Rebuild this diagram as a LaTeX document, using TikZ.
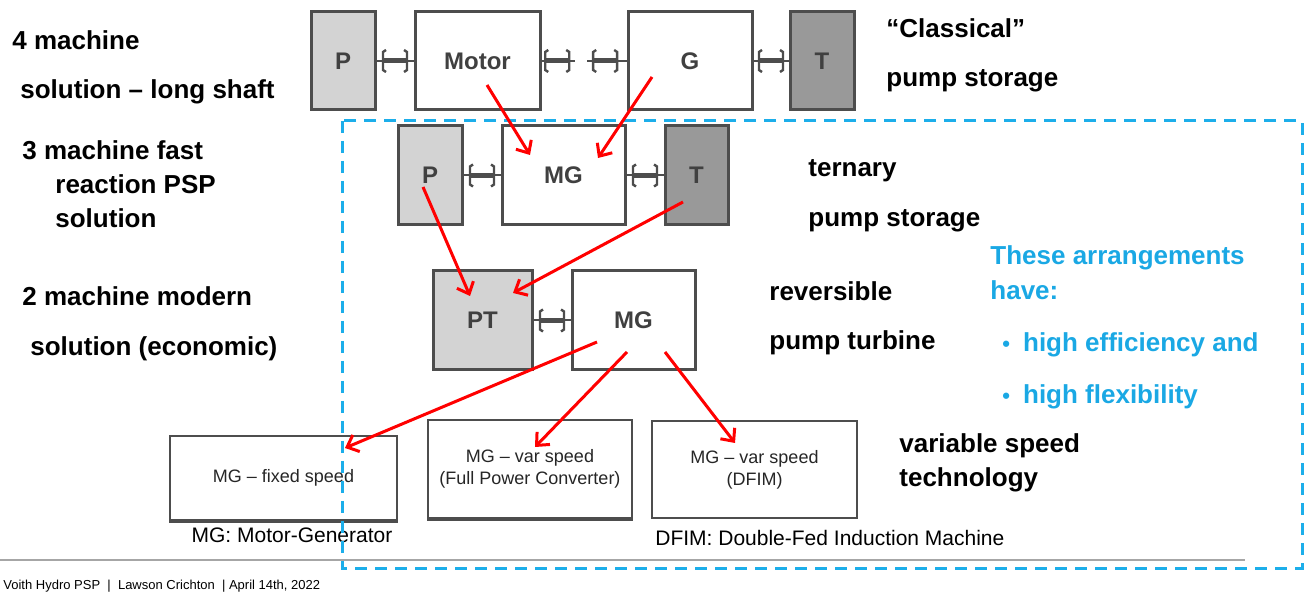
\documentclass[tikz,border=0pt]{standalone}
\usepackage{fontspec}
\setmainfont{Liberation Sans}
\usepackage{tikz}
\usetikzlibrary{arrows.meta,calc}

\definecolor{edge}{HTML}{4D4D4D}
\definecolor{pumpgray}{HTML}{D3D3D3}
\definecolor{turbgray}{HTML}{999999}
\definecolor{framebl}{HTML}{1CAEEA}
\definecolor{textbl}{HTML}{1AA8E4}
\definecolor{lblgray}{HTML}{404040}

\tikzset{
  coupling/.pic={
    \draw[line width=2.5pt, edge] (-12,0) -- (12,0);
    \draw[line width=1.2pt, edge] (-9,-11) -- (-12,-9) -- (-12,9) -- (-9,11);
    \draw[line width=1.2pt, edge] (9,-11) -- (12,-9) -- (12,9) -- (9,11);
  }
}

\begin{document}
\begin{tikzpicture}[x=0.5pt, y=-0.5pt,
    mach/.style={draw=edge, line width=1.5pt, inner sep=0pt, minimum height=49pt, font=\fontsize{12}{14}\selectfont\bfseries, text=lblgray},
    pbox/.style={mach, fill=pumpgray},
    tbox/.style={mach, fill=turbgray},
    wbox/.style={mach, fill=white},
    vbox/.style={draw=edge, line width=1pt, fill=white, align=center, inner sep=0pt, font=\fontsize{9}{11}\selectfont, text=black!85},
    shaft/.style={edge, line width=1pt},
    arr/.style={-{Straight Barb[length=5pt,width=9pt]}, red, line width=1.5pt},
    side/.style={anchor=base west, inner sep=0pt, font=\fontsize{13}{15}\selectfont\bfseries},
    note/.style={anchor=base, inner sep=0pt, font=\fontsize{10.5}{12}\selectfont},
    frame/.style={draw=framebl, line width=1.5pt, dash pattern=on 6pt off 4pt}
]
\useasboundingbox (0,0) rectangle (1305,592);

% four machine set
\node[pbox, minimum width=32pt] (P1) at (343,61) {P};
\node[wbox, minimum width=62.5pt] (Mot) at (477.5,61) {Motor};
\node[wbox, minimum width=62pt] (G1) at (690,61) {G};
\node[tbox, minimum width=32pt] (T1) at (822,61) {T};
\coordinate (s1) at (575,61);
\coordinate (s2) at (587,61);
\draw[shaft] (P1) -- (Mot);
\draw[shaft] (Mot.east) -- (s1);
\draw[shaft] (s2) -- (G1.west);
\draw[shaft] (G1) -- (T1);
\pic at ($(P1.east)!0.5!(Mot.west)$) {coupling};
\pic at ($(Mot.east)!0.47!(s1)$) {coupling};
\pic at ($(s2)!0.46!(G1.west)$) {coupling};
\pic at ($(G1.east)!0.5!(T1.west)$) {coupling};

% ternary set
\node[pbox, minimum width=32pt, minimum height=49.5pt] (P2) at (430,175.5) {P};
\node[wbox, minimum width=61.5pt, minimum height=49.5pt] (MG2) at (563.5,175.5) {MG};
\node[tbox, minimum width=31.5pt, minimum height=49.5pt] (T2) at (696.5,175.5) {T};
\draw[shaft] (P2) -- (MG2);
\draw[shaft] (MG2) -- (T2);
\pic at ($(P2.east)!0.5!(MG2.west)$) {coupling};
\pic at ($(MG2.east)!0.5!(T2.west)$) {coupling};

% reversible set
\node[pbox, minimum width=49.5pt, minimum height=49.5pt] (PT) at (482.5,320.5) {PT};
\node[wbox, minimum width=61.5pt, minimum height=49.5pt] (MG3) at (633.5,320.5) {MG};
\draw[shaft] (PT) -- (MG3);
\pic at ($(PT.east)!0.5!(MG3.west)$) {coupling};

% variable speed options
\node[vbox, minimum width=113.5pt, minimum height=42pt] (fix) at (283.5,478) {MG – fixed speed};
\node[vbox, minimum width=102pt, minimum height=49pt] (fpc) at (530,469) {MG – var speed\\(Full Power Converter)};
\node[vbox, minimum width=102.5pt, minimum height=48.5pt] (dfim) at (754.5,469.5) {MG – var speed\\(DFIM)};
\draw[edge, line width=2pt] (fix.south west) -- (fix.south east);
\draw[edge, line width=2pt] (fpc.south west) -- (fpc.south east);

\node[note] (mgn) at (292,542) {MG: Motor-Generator};
\node[note, anchor=base west] (dfn) at (655,545) {DFIM: Double-Fed Induction Machine};

% left side
\node[side] (t4a) at (12,50) {4 machine};
\node[side] (t4b) at (20,99) {solution – long shaft};
\node[side] (t3a) at (22,160) {3 machine fast};
\node[side] (t3b) at (55,194) {reaction PSP};
\node[side] (t3c) at (55,228) {solution};
\node[side] (t2a) at (22,306) {2 machine modern};
\node[side] (t2b) at (30,356) {solution (economic)};

% right side
\node[side] (c1) at (886,38) {“Classical”};
\node[side] (c2) at (886,87) {pump storage};
\node[side] (r1) at (808,177) {ternary};
\node[side] (r2) at (808,227) {pump storage};
\node[side] (v1) at (769,301) {reversible};
\node[side] (v2) at (769,350) {pump turbine};
\node[side] (w1) at (899,452) {variable speed};
\node[side] (w2) at (899,487) {technology};

\node[side, text=textbl] (h1) at (990,265) {These arrangements};
\node[side, text=textbl] (h2) at (990,300) {have:};
\node[side, text=textbl] (h3) at (1002,352) {{\fontsize{11}{11}\selectfont •}\hspace{6.5pt}high efficiency and};
\node[side, text=textbl] (h4) at (1002,404) {{\fontsize{11}{11}\selectfont •}\hspace{6.5pt}high flexibility};

% frame and footer
\draw[frame] (342,121) rectangle (1302,568);
\draw[gray!70, line width=1pt] (0,560) -- (1245,560);
\node[anchor=base west, inner sep=0pt, font=\fontsize{6.5}{7}\selectfont] (foot) at (3,589) {Voith Hydro PSP \ | \ Lawson Crichton \ | April 14th, 2022};

% arrows
\draw[arr] ($(Mot.center)+(9.5,24)$) -- ($(MG2.center)+(-33.5,-20.5)$);
\draw[arr] ($(G1.center)+(-38,16)$) -- ($(MG2.center)+(34.5,-17.5)$);
\draw[arr] ($(P2.center)+(-7,11.5)$) -- ($(PT.center)+(-12.5,-24.5)$);
\draw[arr] ($(T2.center)+(-13.5,26.5)$) -- ($(PT.center)+(30.5,-27.5)$);
\draw[arr] ($(MG3.center)+(-36.5,21.5)$) -- ($(fix.center)+(61.5,-30)$);
\draw[arr] ($(MG3.center)+(-6.5,31.5)$) -- ($(fpc.center)+(5,-22)$);
\draw[arr] ($(MG3.center)+(31.5,31.5)$) -- ($(dfim.center)+(-19.5,-26.5)$);
\end{tikzpicture}
\end{document}
